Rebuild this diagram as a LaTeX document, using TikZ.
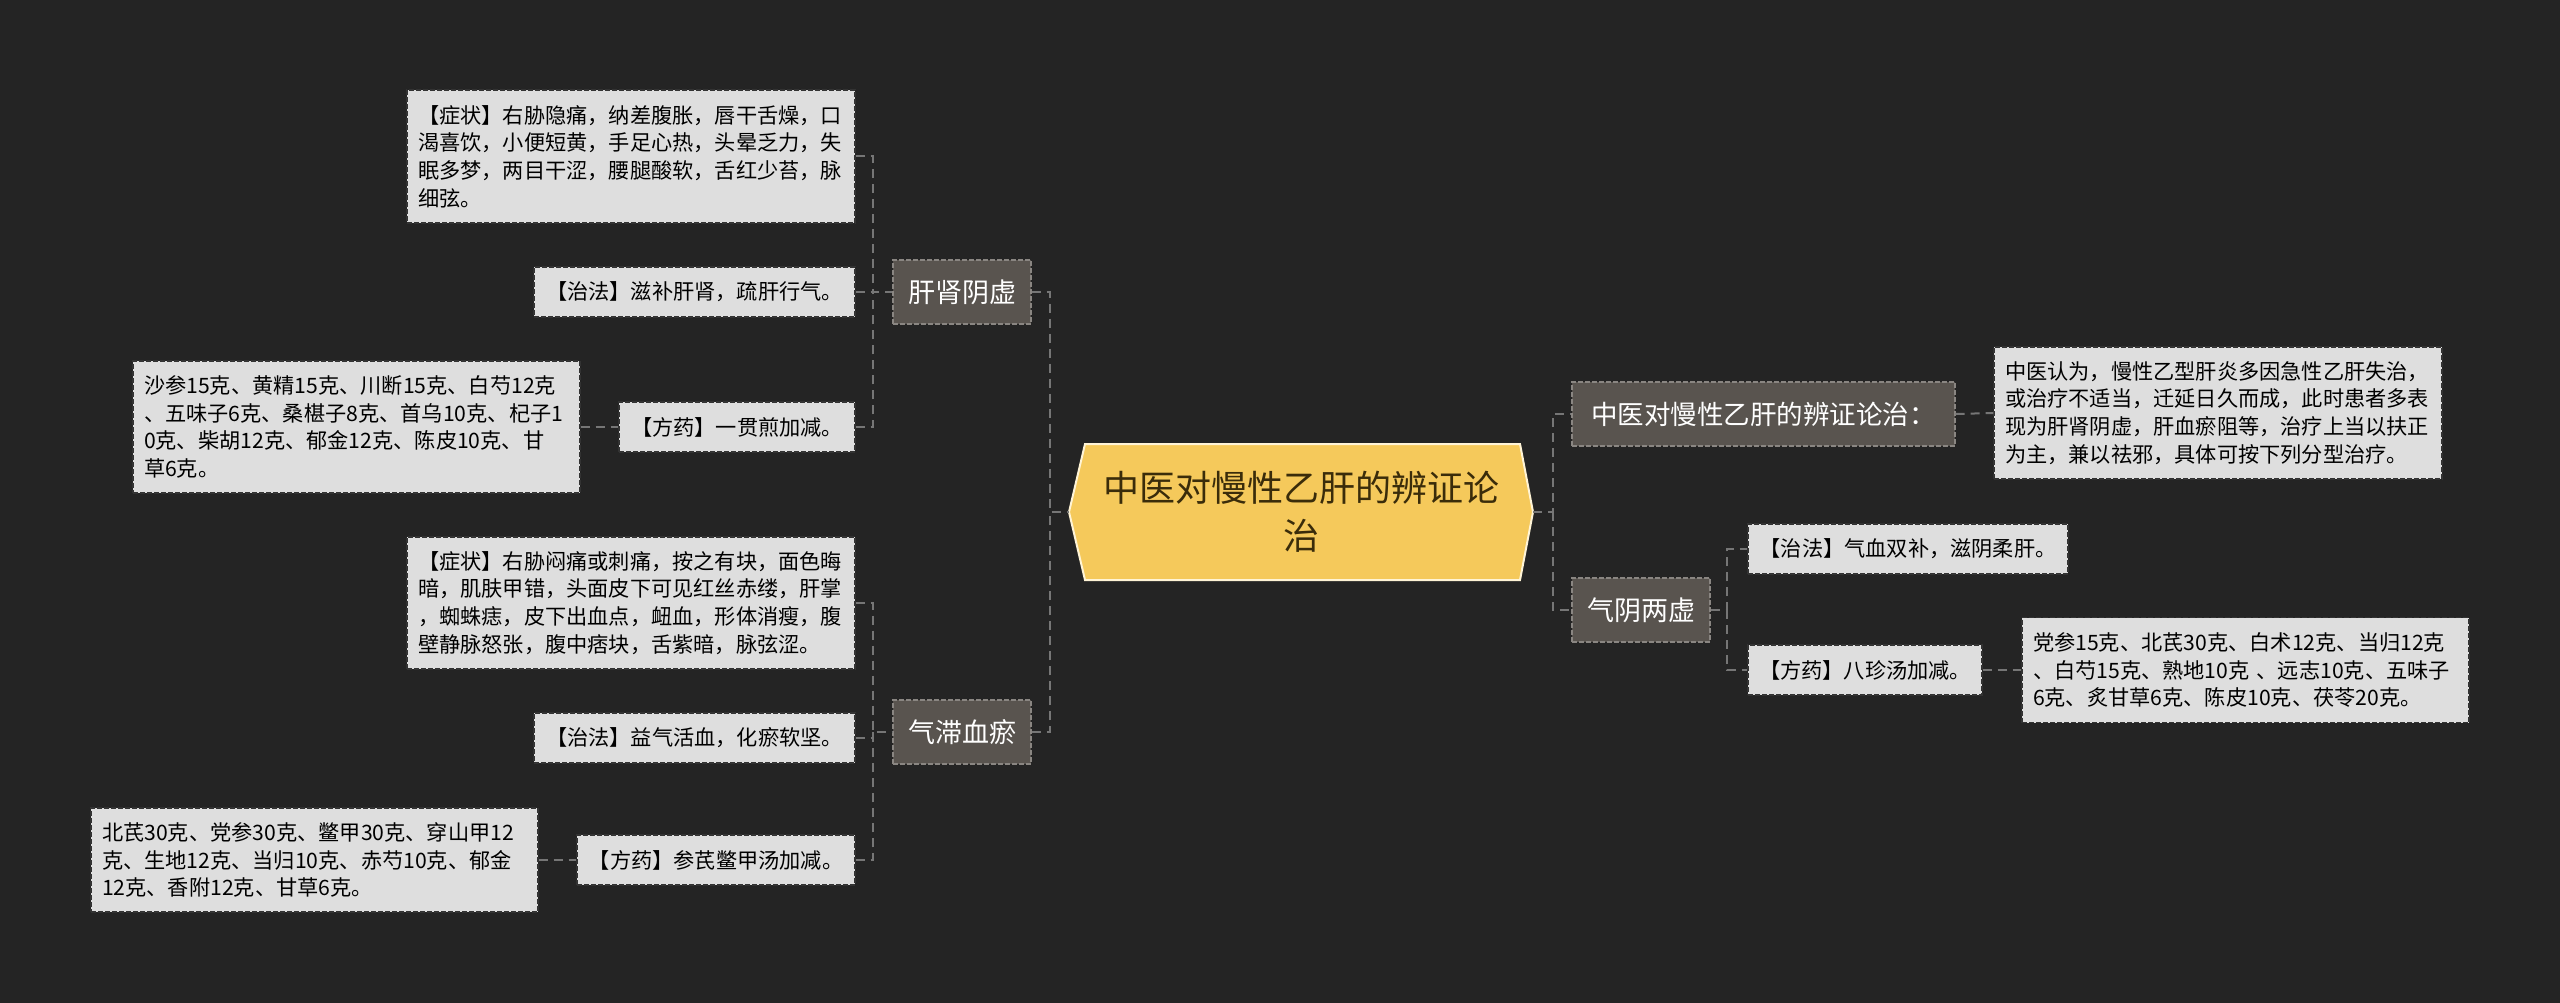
\documentclass[tikz,border=0pt]{standalone}
\usepackage{fontspec}
\setmainfont{Noto Sans CJK SC}
\definecolor{bgc}{HTML}{242424}
\definecolor{connc}{HTML}{767676}
\definecolor{boxc}{HTML}{DEDEDE}
\definecolor{boxb}{HTML}{333333}
\definecolor{catc}{HTML}{59544F}
\definecolor{catb}{HTML}{8A8682}
\definecolor{hexc}{HTML}{F5C95B}
\definecolor{hexb}{HTML}{FFF4D6}
\definecolor{hext}{HTML}{3A2C0A}
\begin{document}
\begin{tikzpicture}[x=1pt,y=-1pt,
  conn/.style={draw=connc, line width=2pt, dash pattern=on 9pt off 6pt},
  tbox/.style={rectangle, fill=boxc, draw=boxb, line width=1.4pt, dash pattern=on 5pt off 2pt,
    inner xsep=11pt, inner ysep=0pt, text=black, font=\fontsize{21.2}{27.7}\selectfont,
    minimum height=50pt},
  mbox/.style={tbox, align=left},
  cat/.style={rectangle, fill=catc, draw=catb, line width=1.4pt, dash pattern=on 5pt off 2pt,
    text=white, font=\fontsize{27}{32}\selectfont, minimum height=64pt, inner sep=0pt},
]
\fill[bgc] (0,0) rectangle (2560,1003);
\useasboundingbox (0,0) rectangle (2560,1003);

% central hexagon
\filldraw[fill=hexc, draw=hexb, line width=2pt]
  (1069,512) -- (1085,444) -- (1520,444) -- (1533,512) -- (1520,580) -- (1085,580) -- cycle;
\node[minimum width=464pt, minimum height=136pt, inner sep=0pt, align=center, text=hext,
  font=\fontsize{36}{48}\selectfont] (hex) at (1301,512) {中医对慢性乙肝的辨证论\\治};

% left branch 1
\node[cat, minimum width=138pt] (N1) at (962,292) {肝肾阴虚};
\node[mbox, text width=426pt, minimum height=133pt] (S1) at (631,156.5)
  {【症状】右胁隐痛，纳差腹胀，唇干舌燥，口\\渴喜饮，小便短黄，手足心热，头晕乏力，失\\眠多梦，两目干涩，腰腿酸软，舌红少苔，脉\\细弦。};
\node[tbox, minimum width=321pt] (Z1) at (694.5,292) {【治法】滋补肝肾，疏肝行气。};
\node[tbox, minimum width=236pt] (F1) at (737,427) {【方药】一贯煎加减。};
\node[mbox, text width=425pt, minimum height=132pt] (I1) at (356.5,427)
  {沙参15克、黄精15克、川断15克、白芍12克\\、五味子6克、桑椹子8克、首乌10克、杞子1\\0克、柴胡12克、郁金12克、陈皮10克、甘\\草6克。};

% left branch 2
\node[cat, minimum width=138pt] (N2) at (962,732) {气滞血瘀};
\node[mbox, text width=426pt, minimum height=132pt] (S2) at (631,603)
  {【症状】右胁闷痛或刺痛，按之有块，面色晦\\暗，肌肤甲错，头面皮下可见红丝赤缕，肝掌\\，蜘蛛痣，皮下出血点，衄血，形体消瘦，腹\\壁静脉怒张，腹中痞块，舌紫暗，脉弦涩。};
\node[tbox, minimum width=321pt] (Z2) at (694.5,738) {【治法】益气活血，化瘀软坚。};
\node[tbox, minimum width=278pt] (F2) at (716,860) {【方药】参芪鳖甲汤加减。};
\node[mbox, text width=425pt, minimum height=104pt] (I2) at (314.5,860)
  {北芪30克、党参30克、鳖甲30克、穿山甲12\\克、生地12克、当归10克、赤芍10克、郁金\\12克、香附12克、甘草6克。};

% right branch 1
\node[cat, minimum width=383pt, font=\fontsize{26.5}{32}\selectfont] (R1n) at (1763.5,414) {中医对慢性乙肝的辨证论治：};
\node[mbox, text width=426pt, minimum height=132pt] (R1t) at (2218,413)
  {中医认为，慢性乙型肝炎多因急性乙肝失治，\\或治疗不适当，迁延日久而成，此时患者多表\\现为肝肾阴虚，肝血瘀阻等，治疗上当以扶正\\为主，兼以祛邪，具体可按下列分型治疗。};

% right branch 2
\node[cat, minimum width=138pt] (N3) at (1641,610) {气阴两虚};
\node[tbox, minimum width=320pt] (Z3) at (1908,549) {【治法】气血双补，滋阴柔肝。};
\node[tbox, minimum width=234pt] (F3) at (1865,670) {【方药】八珍汤加减。};
\node[mbox, text width=425pt, minimum height=105pt] (I3) at (2245.5,670)
  {党参15克、北芪30克、白术12克、当归12克\\、白芍15克、熟地10克 、远志10克、五味子\\6克、炙甘草6克、陈皮10克、茯苓20克。};

% junctions
\coordinate (tl) at (1050,512);
\coordinate (tr) at (1553,512);
\coordinate (j1) at (873,292);
\coordinate (j2) at (873,732);
\coordinate (j3) at (1727,610);

% connectors
\draw[conn] (N1.east) -| (tl) -- (hex.west);
\draw[conn] (N2.east) -| (tl);
\draw[conn] (hex.east) -- (tr) |- (R1n.west);
\draw[conn] (tr) |- (N3.west);

\draw[conn] (S1.east) -| (j1) -- (N1.west);
\draw[conn] (Z1.east) -- (j1);
\draw[conn] (F1.east) -| (j1);
\draw[conn] (I1.east) -- (F1.west);

\draw[conn] (S2.east) -| (j2) -- (N2.west);
\draw[conn] (Z2.east) -| (j2);
\draw[conn] (F2.east) -| (j2);
\draw[conn] (I2.east) -- (F2.west);

\draw[conn] (R1n.east) -- (R1t.west);
\draw[conn] (N3.east) -- (j3) |- (Z3.west);
\draw[conn] (j3) |- (F3.west);
\draw[conn] (F3.east) -- (I3.west);
\end{tikzpicture}
\end{document}
